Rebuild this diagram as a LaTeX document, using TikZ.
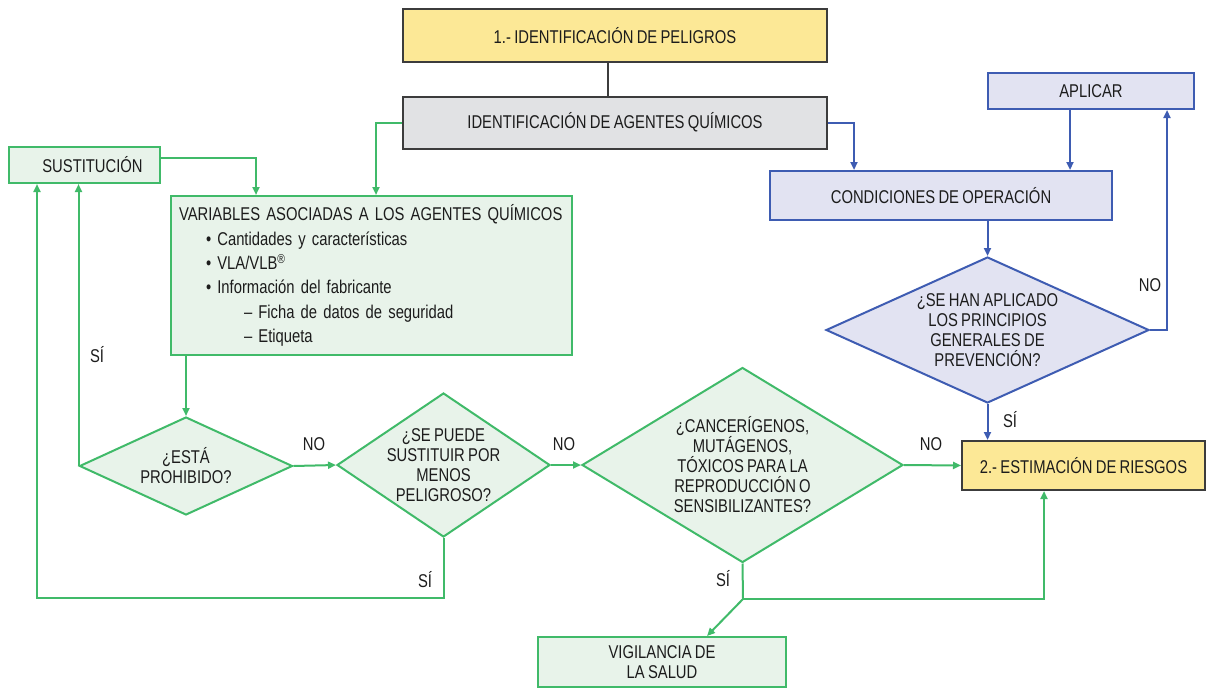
\documentclass[tikz,border=0pt]{standalone}
\usepackage{fontspec}
\setmainfont{Liberation Sans}[FakeStretch=0.8, WordSpace=0.8]
\usetikzlibrary{arrows.meta,shapes.geometric}
\definecolor{gline}{RGB}{64,186,105}
\definecolor{gfill}{RGB}{232,243,234}
\definecolor{bline}{RGB}{62,92,178}
\definecolor{bfill}{RGB}{226,227,242}
\definecolor{yfill}{RGB}{252,232,150}
\definecolor{grayfill}{RGB}{225,226,228}
\definecolor{darkline}{RGB}{60,60,60}
\definecolor{txt}{RGB}{28,28,28}
\tikzset{
  base/.style={font={\fontsize{18.5}{20}\selectfont}, text=txt, inner sep=0pt, align=center},
  gbox/.style={base, rectangle, draw=gline, fill=gfill, line width=2pt},
  bbox/.style={base, rectangle, draw=bline, fill=bfill, line width=2pt},
  ybox/.style={base, rectangle, draw=darkline, fill=yfill, line width=2pt},
  graybox/.style={base, rectangle, draw=darkline, fill=grayfill, line width=2pt},
  gdia/.style={base, diamond, draw=gline, fill=gfill, line width=2pt, inner sep=-20pt},
  bdia/.style={base, diamond, draw=bline, fill=bfill, line width=2pt, inner sep=-20pt},
  garrow/.style={draw=gline, line width=2pt, -{Triangle[length=8pt,width=7pt]}},
  gplain/.style={draw=gline, line width=2pt},
  barrow/.style={draw=bline, line width=2pt, -{Triangle[length=8pt,width=7pt]}},
  lbl/.style={font={\fontsize{18.5}{20}\selectfont}, text=txt, inner sep=0pt},
}
\begin{document}
\begin{tikzpicture}[x=1pt,y=-1pt]
\useasboundingbox (0,0) rectangle (1209,688);
% boxes
\node[ybox, minimum width=424, minimum height=53] (peligros) at (615,35.5) {1.- IDENTIFICACIÓN DE PELIGROS};
\node[graybox, minimum width=424, minimum height=52] (agentes) at (615,122.5) {IDENTIFICACIÓN DE AGENTES QUÍMICOS};
\node[gbox, minimum width=151, minimum height=36] (sust) at (84.5,165) {\hspace*{16pt}SUSTITUCIÓN};
\node[gbox, minimum width=401, minimum height=159, align=left, text width=385,
      font={\fontsize{18.5}{24.4}\selectfont}] (vars) at (371.5,275.5)
  {VARIABLES ASOCIADAS A LOS AGENTES QUÍMICOS\\
   \hspace*{27pt}•\ Cantidades y características\\
   \hspace*{27pt}•\ VLA/VLB\textsuperscript{®}\\
   \hspace*{27pt}•\ Información del fabricante\\
   \hspace*{65pt}–\ Ficha de datos de seguridad\\
   \hspace*{65pt}–\ Etiqueta};
\node[gdia, minimum width=213, minimum height=98] (d1) at (186,466) {¿ESTÁ\\PROHIBIDO?};
\node[gdia, minimum width=213, minimum height=144] (d2) at (443.5,465) {¿SE PUEDE\\SUSTITUIR POR\\MENOS\\PELIGROSO?};
\node[gdia, minimum width=321, minimum height=195] (d3) at (742.5,465) {¿CANCERÍGENOS,\\MUTÁGENOS,\\TÓXICOS PARA LA\\REPRODUCCIÓN O\\SENSIBILIZANTES?};
\node[ybox, minimum width=243, minimum height=49] (est) at (1083.5,465.5) {2.- ESTIMACIÓN DE RIESGOS};
\node[bbox, minimum width=342, minimum height=49] (cond) at (941,195.5) {CONDICIONES DE OPERACIÓN};
\node[bbox, minimum width=206, minimum height=36] (apl) at (1091,91) {APLICAR};
\node[bdia, minimum width=323, minimum height=146] (d4) at (987.5,330) {¿SE HAN APLICADO\\LOS PRINCIPIOS\\GENERALES DE\\PREVENCIÓN?};
\node[gbox, minimum width=248, minimum height=50] (vig) at (662,662) {VIGILANCIA DE\\LA SALUD};
% helper coordinates
\coordinate (c1) at (37,598);
\coordinate (j) at (743,599);
% connectors
\draw[darkline, line width=2pt] ([xshift=-7pt]peligros.south) -- ([xshift=-7pt]agentes.north);
\draw[garrow] (agentes.west) -| ([xshift=4.5pt]vars.north);
\draw[garrow] ([yshift=7pt]sust.east) -| ([xshift=-115.5pt]vars.north);
\draw[garrow] (vars.south -| d1.north) -- (d1.north);
\draw[garrow] (d1.west) -- (d1.west |- sust.south);
\draw[garrow] (d2.south) -- (d2.south |- c1) -- (c1) -- (c1 |- sust.south);
\draw[garrow] (d1.east) -- (d2.west);
\draw[garrow] (d2.east) -- (d3.west);
\draw[garrow] (d3.east) -- (est.west);
\draw[gplain] (d3.south) -- (j);
\draw[garrow] (j) -| ([xshift=-39.5pt]est.south);
\draw[garrow] (j) -- ([xshift=45pt]vig.north);
\draw[barrow] (agentes.east) -| ([xshift=-87pt]cond.north);
\draw[barrow] ([xshift=-21pt]apl.south) -- ([xshift=-21pt]apl.south |- cond.north);
\draw[barrow] (d4.north |- cond.south) -- (d4.north);
\draw[barrow] (d4.south) -- (d4.south |- est.north);
\draw[barrow] (d4.east) -| ([xshift=76pt]apl.south);
% labels
\node[lbl] (l1) at (97,355) {SÍ};
\node[lbl] (l2) at (314,444) {NO};
\node[lbl] (l3) at (564,444) {NO};
\node[lbl] (l4) at (425,580) {SÍ};
\node[lbl] (l5) at (931,444) {NO};
\node[lbl] (l6) at (723,579) {SÍ};
\node[lbl] (l7) at (1010,420) {SÍ};
\node[lbl] (l8) at (1150,285) {NO};
\end{tikzpicture}
\end{document}
